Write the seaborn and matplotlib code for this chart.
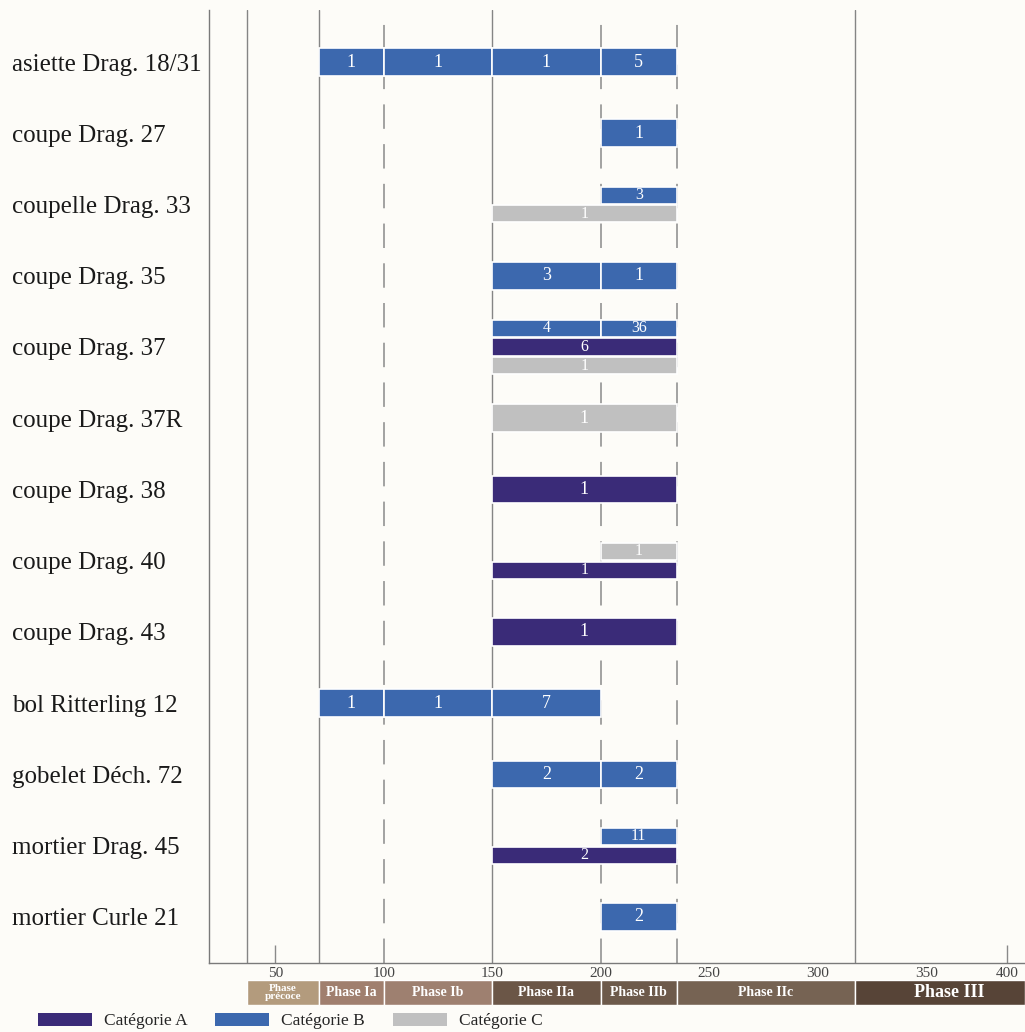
import numpy as np
import pandas as pd
import matplotlib
matplotlib.use("Agg")
import matplotlib.pyplot as plt
from matplotlib.patches import Patch
import seaborn as sns

# ---------------- data ----------------
categories = ["asiette Drag. 18/31", "coupe Drag. 27", "coupelle Drag. 33", "coupe Drag. 35",
              "coupe Drag. 37", "coupe Drag. 37R", "coupe Drag. 38", "coupe Drag. 40",
              "coupe Drag. 43", "bol Ritterling 12", "gobelet Déch. 72", "mortier Drag. 45",
              "mortier Curle 21"]

seg_row = [0, 0, 0, 0,
           1,
           2, 2,
           3, 3,
           4, 4, 4, 4,
           5,
           6,
           7, 7,
           8,
           9, 9, 9,
           10, 10,
           11, 11,
           12]
seg_lane = [0, 0, 0, 0,
            0,
            0, 1,
            0, 0,
            0, 0, 1, 2,
            0,
            0,
            0, 1,
            0,
            0, 0, 0,
            0, 0,
            0, 1,
            0]
seg_cat = ["B", "B", "B", "B",
           "B",
           "B", "C",
           "B", "B",
           "B", "B", "A", "C",
           "C",
           "A",
           "C", "A",
           "A",
           "B", "B", "B",
           "B", "B",
           "B", "A",
           "B"]
seg_start = [70, 100, 150, 200,
             200,
             200, 150,
             150, 200,
             150, 200, 150, 150,
             150,
             150,
             200, 150,
             150,
             70, 100, 150,
             150, 200,
             200, 150,
             200]
seg_end = [100, 150, 200, 235,
           235,
           235, 235,
           200, 235,
           200, 235, 235, 235,
           235,
           235,
           235, 235,
           235,
           100, 150, 200,
           200, 235,
           235, 235,
           235]
seg_count = [1, 1, 1, 5,
             1,
             3, 1,
             3, 1,
             4, 36, 6, 1,
             1,
             1,
             1, 1,
             1,
             1, 1, 7,
             2, 2,
             11, 2,
             2]

phase_names = ["Phase\nprécoce", "Phase Ia", "Phase Ib", "Phase IIa", "Phase IIb", "Phase IIc", "Phase III"]
phase_start = [37, 70, 100, 150, 200, 235, 317]
phase_end = [70, 100, 150, 200, 235, 317, 411]
major_bounds = [37, 70, 150, 317]
minor_bounds = [100, 200, 235]

x_ticks = [50, 100, 150, 200, 250, 300, 350, 400]

cat_labels = {"A": "Catégorie A", "B": "Catégorie B", "C": "Catégorie C"}
cat_colors = {"A": "#3a2b78", "B": "#3c68ae", "C": "#c0c0c0"}
phase_colors = ["#b39b7d", "#a07f6e", "#9e8070", "#6b5647", "#6d5a4b", "#766353", "#574437"]

df = pd.DataFrame({"row": seg_row, "lane": seg_lane, "cat": seg_cat,
                   "start": seg_start, "end": seg_end, "count": seg_count})
df["nlanes"] = df.groupby("row")["lane"].transform("max") + 1

# ---------------- style ----------------
sns.set_theme(style="white")
plt.rcParams["font.family"] = ["Liberation Serif", "DejaVu Serif"]
BG = "#fdfcf8"

# piecewise-linear time scale (the reference compresses the axis after 350)
bx = [0, 350, 600]
by = [0, 350, 350 + 250 * 0.746]
fwd = lambda x: np.interp(x, bx, by)
inv = lambda y: np.interp(y, by, bx)

fig = plt.figure(figsize=(10.25, 10.32), dpi=100, facecolor=BG)
W, H = 1025, 1032
ax = fig.add_axes([209 / W, 1 - 963 / H, 816 / W, (963 - 10) / H])
ax.set_facecolor(BG)
ax.set_xscale("function", functions=(fwd, inv))
XMIN, XMAX = 19.5, 411
ax.set_xlim(XMIN, XMAX)
ax.set_ylim(12.646, -0.73)

# vertical phase lines
for b in major_bounds:
    ax.axvline(b, color="#858585", lw=1.0, zorder=1)
for b in minor_bounds:
    ax.axvline(b, color="#8a8a8a", lw=1.1, ls=(0, (16, 10)), zorder=1)
ax.vlines([50, 400], 12.646 - 0.25, 12.646, color="#8a8a8a", lw=1.0, zorder=1)

# bars
full_h, sub_h, step = 0.39, 0.24, 0.265
for _, r in df.iterrows():
    if r["nlanes"] == 1:
        y, h, fs = r["row"], full_h, 13
    else:
        y = r["row"] + (r["lane"] - (r["nlanes"] - 1) / 2) * step
        h, fs = sub_h, 11.5
    ax.barh(y, r["end"] - r["start"], left=r["start"], height=h,
            color=cat_colors[r["cat"]], edgecolor="white", linewidth=1.2, zorder=3)
    ax.text((r["start"] + r["end"]) / 2, y, str(r["count"]), color="white",
            ha="center", va="center", fontsize=fs, zorder=4)

# axes styling
ax.set_yticks(range(len(categories)))
ax.set_yticklabels(categories, fontsize=18, color="#1a1a1a")
for lab in ax.get_yticklabels():
    lab.set_horizontalalignment("left")
ax.tick_params(axis="y", length=0, pad=(209 - 12) * 0.72)
ax.set_xticks(x_ticks)
ax.set_xticklabels([str(t) for t in x_ticks], fontsize=11, color="#444444")
ax.xaxis.set_minor_locator(matplotlib.ticker.NullLocator())
ax.tick_params(axis="x", length=0, pad=3)
for s in ["top", "right"]:
    ax.spines[s].set_visible(False)
for s in ["left", "bottom"]:
    ax.spines[s].set_color("#7a7a7a")
    ax.spines[s].set_linewidth(1.0)
ax.grid(False)

# phase band
pax = fig.add_axes([209 / W, 1 - 1005 / H, 816 / W, 25 / H])
pax.set_facecolor(BG)
pax.set_xscale("function", functions=(fwd, inv))
pax.set_xlim(XMIN, XMAX)
pax.set_ylim(-0.5, 0.5)
for name, s, e, c in zip(phase_names, phase_start, phase_end, phase_colors):
    pax.barh(0, e - s, left=s, height=1.0, color=c, edgecolor="white", linewidth=1.0)
    if "précoce" in name:
        fs = 8
    elif name == "Phase III":
        fs = 13
    else:
        fs = 10
    pax.text((s + e) / 2, 0, name, color="white", ha="center", va="center",
             fontsize=fs, fontweight="bold", linespacing=0.9)
pax.axis("off")

# legend
handles = [Patch(facecolor=cat_colors[k], edgecolor="none", label=cat_labels[k]) for k in ["A", "B", "C"]]
fig.legend(handles=handles, loc="center left", bbox_to_anchor=(38 / W, 1 - 1021 / H),
           ncol=3, frameon=False, fontsize=12.5, handlelength=3.1, handleheight=0.8,
           handletextpad=0.7, columnspacing=1.6, borderpad=0, borderaxespad=0)

fig.savefig("out.png", dpi=100, facecolor=BG)
